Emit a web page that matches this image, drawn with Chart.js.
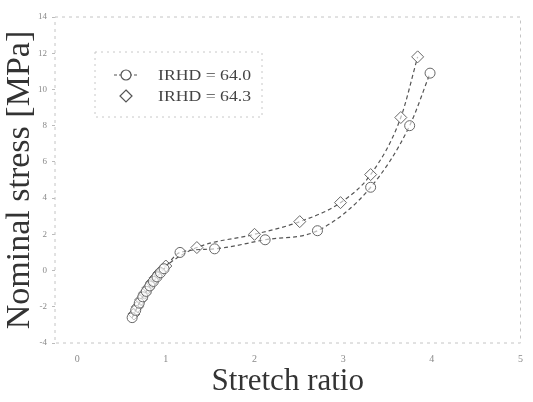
<!DOCTYPE html>
<html>
<head>
<meta charset="utf-8">
<script src="https://cdn.jsdelivr.net/npm/chart.js@4.4.1/dist/chart.umd.min.js"></script>
<style>
  html, body { margin: 0; padding: 0; background: #fff; }
  #wrap { width: 533px; height: 402px; }
</style>
</head>
<body>
<div id="wrap"><canvas id="chart" width="533" height="402"></canvas></div>
<script>
// Values (estimated)
const softLabel = 'IRHD = 64.0';
const softX = [0.62, 0.66, 0.70, 0.74, 0.78, 0.82, 0.86, 0.90, 0.94, 0.98, 1.16, 1.55, 2.12, 2.71, 3.31, 3.75, 3.98];
const softY = [-2.6, -2.2, -1.8, -1.45, -1.15, -0.85, -0.6, -0.35, -0.12, 0.1, 1.0, 1.2, 1.7, 2.2, 4.6, 8.0, 10.9];

const hardLabel = 'IRHD = 64.3';
const hardX = [0.64, 0.68, 0.72, 0.76, 0.80, 0.84, 0.88, 0.92, 0.96, 1.0, 1.35, 2.0, 2.51, 2.97, 3.31, 3.65, 3.84];
const hardY = [-2.4, -2.0, -1.6, -1.25, -0.95, -0.65, -0.4, -0.15, 0.05, 0.25, 1.27, 2.0, 2.7, 3.75, 5.3, 8.45, 11.8];

const xTicks = [0, 1, 2, 3, 4, 5];

function toPoints(xs, ys) {
  return xs.map((x, i) => ({ x: x, y: ys[i] }));
}

const ink = '#555';

// faint dashed frame round the plot, like the scan
const framePlugin = {
  id: 'frame',
  beforeDatasetsDraw(chart) {
    const a = chart.chartArea;
    const ctx = chart.ctx;
    ctx.save();
    ctx.strokeStyle = '#c4c4c4';
    ctx.lineWidth = 1;
    ctx.setLineDash([3, 4]);
    ctx.strokeRect(a.left, a.top, a.right - a.left, a.bottom - a.top);
    ctx.restore();
  }
};

// legend box inside the plot, top left
const legendPlugin = {
  id: 'insideLegend',
  afterDatasetsDraw(chart) {
    const ctx = chart.ctx;
    const a = chart.chartArea;
    const bx = a.left + 40, by = a.top + 35;
    ctx.save();
    ctx.strokeStyle = '#c8c8c8';
    ctx.lineWidth = 1;
    ctx.setLineDash([2, 4]);
    ctx.strokeRect(bx, by, 167, 65);
    ctx.setLineDash([]);

    const rows = [
      { label: softLabel, shape: 'circle', y: by + 23 },
      { label: hardLabel, shape: 'diamond', y: by + 44 }
    ];
    rows.forEach(r => {
      const mx = bx + 31;
      ctx.strokeStyle = ink;
      ctx.lineWidth = 1.2;
      if (r.shape === 'circle') {
        ctx.setLineDash([3, 2]);
        ctx.beginPath();
        ctx.moveTo(mx - 12, r.y);
        ctx.lineTo(mx + 12, r.y);
        ctx.stroke();
        ctx.setLineDash([]);
        ctx.fillStyle = '#fff';
        ctx.beginPath();
        ctx.arc(mx, r.y, 5, 0, Math.PI * 2);
        ctx.fill();
        ctx.stroke();
      } else {
        ctx.beginPath();
        ctx.moveTo(mx, r.y - 6);
        ctx.lineTo(mx + 6, r.y);
        ctx.lineTo(mx, r.y + 6);
        ctx.lineTo(mx - 6, r.y);
        ctx.closePath();
        ctx.stroke();
      }
      ctx.save();
      ctx.translate(bx + 63, r.y);
      ctx.scale(1.18, 1);
      ctx.fillStyle = '#444';
      ctx.font = '15px "Liberation Serif", serif';
      ctx.textBaseline = 'middle';
      ctx.fillText(r.label, 0, 1);
      ctx.restore();
    });
    ctx.restore();
  }
};

const ctx = document.getElementById('chart').getContext('2d');
const chart = new Chart(ctx, {
  type: 'scatter',
  data: {
    datasets: [
      {
        label: softLabel,
        data: toPoints(softX, softY),
        showLine: true,
        borderColor: ink,
        borderWidth: 1.2,
        borderDash: [4, 3],
        tension: 0.4,
        cubicInterpolationMode: 'monotone',
        pointStyle: 'circle',
        pointRadius: 5,
        pointBorderWidth: 1,
        pointBorderColor: '#666',
        pointBackgroundColor: 'rgba(255,255,255,0.6)',
      },
      {
        label: hardLabel,
        data: toPoints(hardX, hardY),
        showLine: true,
        borderColor: ink,
        borderWidth: 1.2,
        borderDash: [4, 3],
        tension: 0.4,
        cubicInterpolationMode: 'monotone',
        pointStyle: 'rectRot',
        pointRadius: 6,
        pointBorderWidth: 1,
        pointBorderColor: '#666',
        pointBackgroundColor: 'rgba(255,255,255,0.6)',
      },
    ],
  },
  options: {
    responsive: false,
    animation: false,
    layout: { padding: { top: 17, right: 5, left: 0, bottom: 0 } },
    plugins: {
      legend: { display: false },
      tooltip: { enabled: false },
    },
    scales: {
      x: {
        type: 'linear',
        min: -0.25,
        max: 5,
        afterBuildTicks(scale) {
          scale.ticks = xTicks.map(v => ({ value: v }));
        },
        afterFit(scale) {
          scale.height = 59;
        },
        grid: { display: false, drawTicks: false },
        border: { display: false },
        ticks: {
          color: '#8a8a8a',
          padding: 10,
          maxRotation: 0,
          font: { family: '"Liberation Serif", serif', size: 10 },
        },
        title: {
          display: true,
          text: 'Stretch ratio',
          color: '#333',
          padding: { top: 0, bottom: 2 },
          font: { family: '"Liberation Serif", serif', size: 31 },
        },
      },
      y: {
        min: -4,
        max: 14,
        ticks: {
          stepSize: 2,
          color: '#8a8a8a',
          padding: 5,
          font: { family: '"Liberation Serif", serif', size: 9 },
        },
        afterFit(scale) {
          scale.width = 55;
        },
        grid: {
          drawOnChartArea: false,
          tickLength: 3,
          color: '#bbb',
        },
        border: { display: false },
        title: {
          display: true,
          text: 'Nominal stress [MPa]',
          color: '#333',
          padding: { top: 0, bottom: 0 },
          font: { family: '"Liberation Serif", serif', size: 34 },
        },
      },
    },
  },
  plugins: [framePlugin, legendPlugin],
});
</script>
</body>
</html>
